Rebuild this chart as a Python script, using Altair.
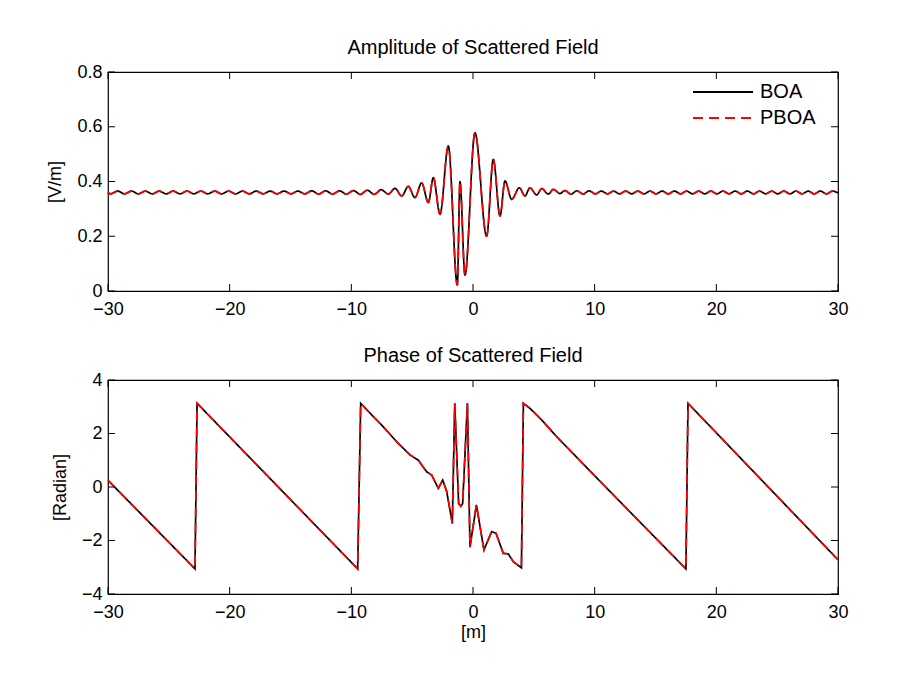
import altair as alt
import pandas as pd

# ---------------- data ----------------
series_names = ["BOA", "PBOA"]
series_colors = ["#000000", "#ff0000"]

x_ticks = [-30, -20, -10, 0, 10, 20, 30]
amp_ticks = [0, 0.2, 0.4, 0.6, 0.8]
phase_ticks = [-4, -2, 0, 2, 4]

# amplitude of scattered field (V/m) - extrema of the ripple
amp_x = [
    -30.0, -29.78, -29.21, -28.64, -28.07, -27.5, -26.93, -26.36, -25.79, -25.22,
    -24.65, -24.08, -23.51, -22.94, -22.37, -21.8, -21.23, -20.66, -20.09, -19.52,
    -18.95, -18.38, -17.81, -17.24, -16.67, -16.1, -15.53, -14.96, -14.39, -13.82,
    -13.25, -12.68, -12.11, -11.54, -10.97, -10.4, -9.83, -9.26, -8.69, -8.12,
    -7.55, -6.96, -6.41, -5.86, -5.32, -4.77, -4.22, -3.67, -3.26, -2.71,
    -2.03, -1.29, -1.07, -0.66, 0.16, 1.12, 1.67, 2.22, 2.63, 3.18,
    3.81, 4.27, 4.68, 5.23, 5.65, 6.19, 6.6, 7.15, 7.56, 8.05,
    8.55, 9.05, 9.55, 10.05, 10.55, 11.05, 11.55, 12.05, 12.55, 13.05,
    13.55, 14.05, 14.55, 15.05, 15.55, 16.05, 16.55, 17.05, 17.55, 18.05,
    18.55, 19.05, 19.55, 20.05, 20.55, 21.05, 21.55, 22.05, 22.55, 23.05,
    23.55, 24.05, 24.55, 25.05, 25.55, 26.05, 26.55, 27.05, 27.55, 28.05,
    28.55, 29.05, 29.55, 30.0,
]
amp_boa = [
    0.360, 0.355, 0.365, 0.355, 0.365, 0.355, 0.365, 0.355, 0.365, 0.355,
    0.365, 0.355, 0.365, 0.355, 0.365, 0.355, 0.365, 0.355, 0.365, 0.355,
    0.365, 0.355, 0.365, 0.355, 0.365, 0.355, 0.365, 0.355, 0.365, 0.355,
    0.366, 0.354, 0.366, 0.354, 0.366, 0.354, 0.367, 0.353, 0.368, 0.353,
    0.370, 0.354, 0.375, 0.347, 0.382, 0.341, 0.395, 0.323, 0.414, 0.280,
    0.530, 0.022, 0.400, 0.058, 0.578, 0.200, 0.481, 0.274, 0.402, 0.335,
    0.377, 0.347, 0.377, 0.351, 0.374, 0.354, 0.371, 0.356, 0.367, 0.354,
    0.366, 0.354, 0.366, 0.355, 0.365, 0.355, 0.365, 0.355, 0.365, 0.355,
    0.365, 0.355, 0.365, 0.355, 0.365, 0.355, 0.365, 0.355, 0.365, 0.355,
    0.365, 0.355, 0.365, 0.355, 0.365, 0.355, 0.365, 0.355, 0.365, 0.355,
    0.365, 0.355, 0.365, 0.355, 0.365, 0.355, 0.365, 0.355, 0.365, 0.355,
    0.365, 0.355, 0.365, 0.358,
]
amp_pboa = list(amp_boa)

# phase of scattered field (radian)
phase_x = [
    -30.0, -22.85, -22.68, -9.48, -9.23, -8.19, -7.37, -6.27, -5.18, -4.49,
    -3.81, -3.4, -2.85, -2.49, -2.16, -1.70, -1.50, -1.18, -1.0, -0.85, -0.46,
    -0.25, 0.28, 0.9, 1.53, 1.89, 2.49, 2.9, 3.31, 3.98, 4.14,
    4.68, 5.37, 5.78, 6.88, 10.0, 14.0, 17.5, 17.67, 30.0,
]
phase_boa = [
    0.25, -3.06, 3.13, -3.06, 3.13, 2.63, 2.25, 1.69, 1.20, 1.00,
    0.57, 0.45, -0.05, 0.26, -0.17, -1.36, 3.13, -0.62, -0.72, -0.62, 3.13,
    -2.25, -0.67, -2.35, -1.67, -1.73, -2.48, -2.50, -2.79, -3.02, 3.13,
    2.94, 2.63, 2.44, 1.88, 0.42, -1.44, -3.06, 3.13, -2.72,
]
phase_pboa = list(phase_boa)

# ---------------- chart ----------------
FONT = "Liberation Sans"
W = 730
H_TOP = 219
H_BOT = 214
TICK = 7


def long_table(xs, ys_by_series):
    rows = []
    for name, ys in zip(series_names, ys_by_series):
        for i, (xv, yv) in enumerate(zip(xs, ys)):
            rows.append({"x": xv, "y": yv, "series": name, "idx": i})
    return pd.DataFrame(rows)


def panel(xs, ys_by_series, yticks, ydomain, ytitle, title, xtitle, H, show_legend):
    df = long_table(xs, ys_by_series)
    xenc = alt.X(
        "x:Q",
        scale=alt.Scale(domain=[-30, 30], nice=False, zero=False),
        axis=alt.Axis(values=x_ticks, ticks=False, domain=False, grid=False,
                      labelPadding=9, labelFlush=False, format="d",
                      title=xtitle, titlePadding=2),
    )
    yenc = alt.Y(
        "y:Q",
        scale=alt.Scale(domain=ydomain, nice=False, zero=False),
        axis=alt.Axis(values=yticks, ticks=False, domain=False, grid=False,
                      labelPadding=6, labelFlush=False, format="~g",
                      title=ytitle, titlePadding=12),
    )
    if show_legend:
        leg = alt.Legend(orient="none", legendX=604, legendY=9, title=None,
                         symbolType="M-3,0L3,0", symbolSize=400, symbolStrokeWidth=2,
                         labelFontSize=20, labelFont=FONT, labelOffset=26,
                         rowPadding=5, labelColor="black")
        color = alt.Color("series:N", scale=alt.Scale(domain=series_names, range=series_colors), legend=leg)
        dash = alt.StrokeDash("series:N", scale=alt.Scale(domain=series_names, range=[[1, 0], [10, 6]]), legend=leg)
    else:
        color = alt.Color("series:N", scale=alt.Scale(domain=series_names, range=series_colors), legend=None)
        dash = alt.StrokeDash("series:N", scale=alt.Scale(domain=series_names, range=[[1, 0], [10, 6]]), legend=None)

    layers = []
    for s in series_names:
        layers.append(
            alt.Chart(df).transform_filter(alt.datum.series == s)
            .mark_line(strokeWidth=1.7, interpolate="monotone" if ydomain[1] < 1 else "linear")
            .encode(x=xenc, y=yenc, color=color, strokeDash=dash, order="idx:Q")
        )
    xt = pd.DataFrame({"x": x_ticks})
    yt = pd.DataFrame({"y": yticks})
    layers.append(alt.Chart(xt).mark_rule(color="black", strokeWidth=1)
                  .encode(x=xenc, y=alt.value(0), y2=alt.value(TICK)))
    layers.append(alt.Chart(xt).mark_rule(color="black", strokeWidth=1)
                  .encode(x=xenc, y=alt.value(H), y2=alt.value(H - TICK)))
    layers.append(alt.Chart(yt).mark_rule(color="black", strokeWidth=1)
                  .encode(y=yenc, x=alt.value(0), x2=alt.value(TICK)))
    layers.append(alt.Chart(yt).mark_rule(color="black", strokeWidth=1)
                  .encode(y=yenc, x=alt.value(W), x2=alt.value(W - TICK)))
    return alt.layer(*layers).properties(
        width=W, height=H,
        title=alt.TitleParams(title, fontSize=20, font=FONT, fontWeight="normal",
                              color="black", offset=5),
    )


top = panel(amp_x, [amp_boa, amp_pboa], amp_ticks, [0, 0.8], "[V/m]",
            "Amplitude of Scattered Field", None, H_TOP, True)
bottom = panel(phase_x, [phase_boa, phase_pboa], phase_ticks, [-4, 4], "[Radian]",
               "Phase of Scattered Field", "[m]", H_BOT, False)

chart = (
    alt.vconcat(top, bottom, spacing=26)
    .resolve_scale(color="independent", strokeDash="independent")
    .properties(padding={"left": 38, "top": 29, "right": 10, "bottom": 10})
    .configure_view(stroke="black", strokeWidth=1.2)
    .configure_axis(labelFont=FONT, labelFontSize=18, labelColor="black",
                    titleFont=FONT, titleFontSize=18, titleFontWeight="normal",
                    titleColor="black")
)

chart.save("out.html", embed_options={"renderer": "svg", "actions": False})
